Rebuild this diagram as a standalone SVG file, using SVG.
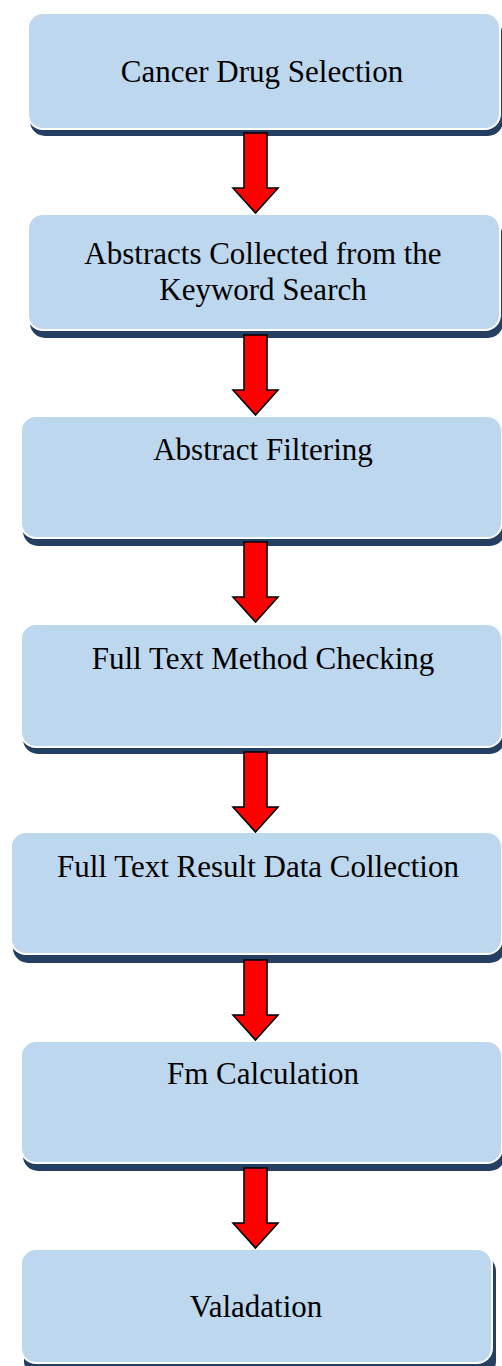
<svg xmlns="http://www.w3.org/2000/svg" xmlns:xlink="http://www.w3.org/1999/xlink" width="502" height="1366" viewBox="0 0 502 1366">
<style>
.shadow{fill:#253f62;}
.box{fill:#bdd7ee;stroke:#ffffff;stroke-width:2;}
.lbl{font-family:"Liberation Serif","Times New Roman",serif;font-size:31px;fill:#000000;text-anchor:middle;}
.arrow{fill:#ff0000;stroke:#000000;stroke-width:1.6;stroke-linejoin:miter;}
</style>
<defs>
<path id="arr" d="M244,0 H267 V55 H278 L255.5,80 L233,55 H244 Z"/>
</defs>
<rect width="502" height="1366" fill="#ffffff"/>
<g id="node1">
<rect class="shadow" x="30" y="20" width="473" height="116" rx="15"/>
<rect class="box" x="28" y="13" width="472" height="116" rx="15"/>
<text class="lbl" x="262" y="82">Cancer Drug Selection</text>
</g>
<g id="node2">
<rect class="shadow" x="30" y="221" width="473" height="117" rx="15"/>
<rect class="box" x="28" y="214" width="472" height="116" rx="15"/>
<text class="lbl" x="263" y="264">Abstracts Collected from the</text>
<text class="lbl" x="263" y="300">Keyword Search</text>
</g>
<g id="node3">
<rect class="shadow" x="23" y="423" width="482" height="123" rx="15"/>
<rect class="box" x="21" y="416" width="481" height="122" rx="15"/>
<text class="lbl" x="263" y="460">Abstract Filtering</text>
</g>
<g id="node4">
<rect class="shadow" x="23" y="631" width="482" height="123" rx="15"/>
<rect class="box" x="21" y="624" width="481" height="123" rx="15"/>
<text class="lbl" x="263" y="669">Full Text Method Checking</text>
</g>
<g id="node5">
<rect class="shadow" x="13" y="840" width="492" height="123" rx="15"/>
<rect class="box" x="11" y="832" width="491" height="122" rx="15"/>
<text class="lbl" x="258" y="877">Full Text Result Data Collection</text>
</g>
<g id="node6">
<rect class="shadow" x="23" y="1048" width="482" height="123" rx="15"/>
<rect class="box" x="21" y="1041" width="481" height="122" rx="15"/>
<text class="lbl" x="263" y="1084">Fm Calculation</text>
</g>
<g id="node7">
<rect class="shadow" x="24" y="1256" width="472" height="120" rx="15"/>
<rect class="box" x="21" y="1249" width="471" height="114" rx="15"/>
<text class="lbl" x="256" y="1317">Valadation</text>
</g>
<g id="connectors">
<use xlink:href="#arr" class="arrow" transform="translate(0,133)"/>
<use xlink:href="#arr" class="arrow" transform="translate(0,335)"/>
<use xlink:href="#arr" class="arrow" transform="translate(0,542)"/>
<use xlink:href="#arr" class="arrow" transform="translate(0,752)"/>
<use xlink:href="#arr" class="arrow" transform="translate(0,960)"/>
<use xlink:href="#arr" class="arrow" transform="translate(0,1168)"/>
</g>
</svg>
